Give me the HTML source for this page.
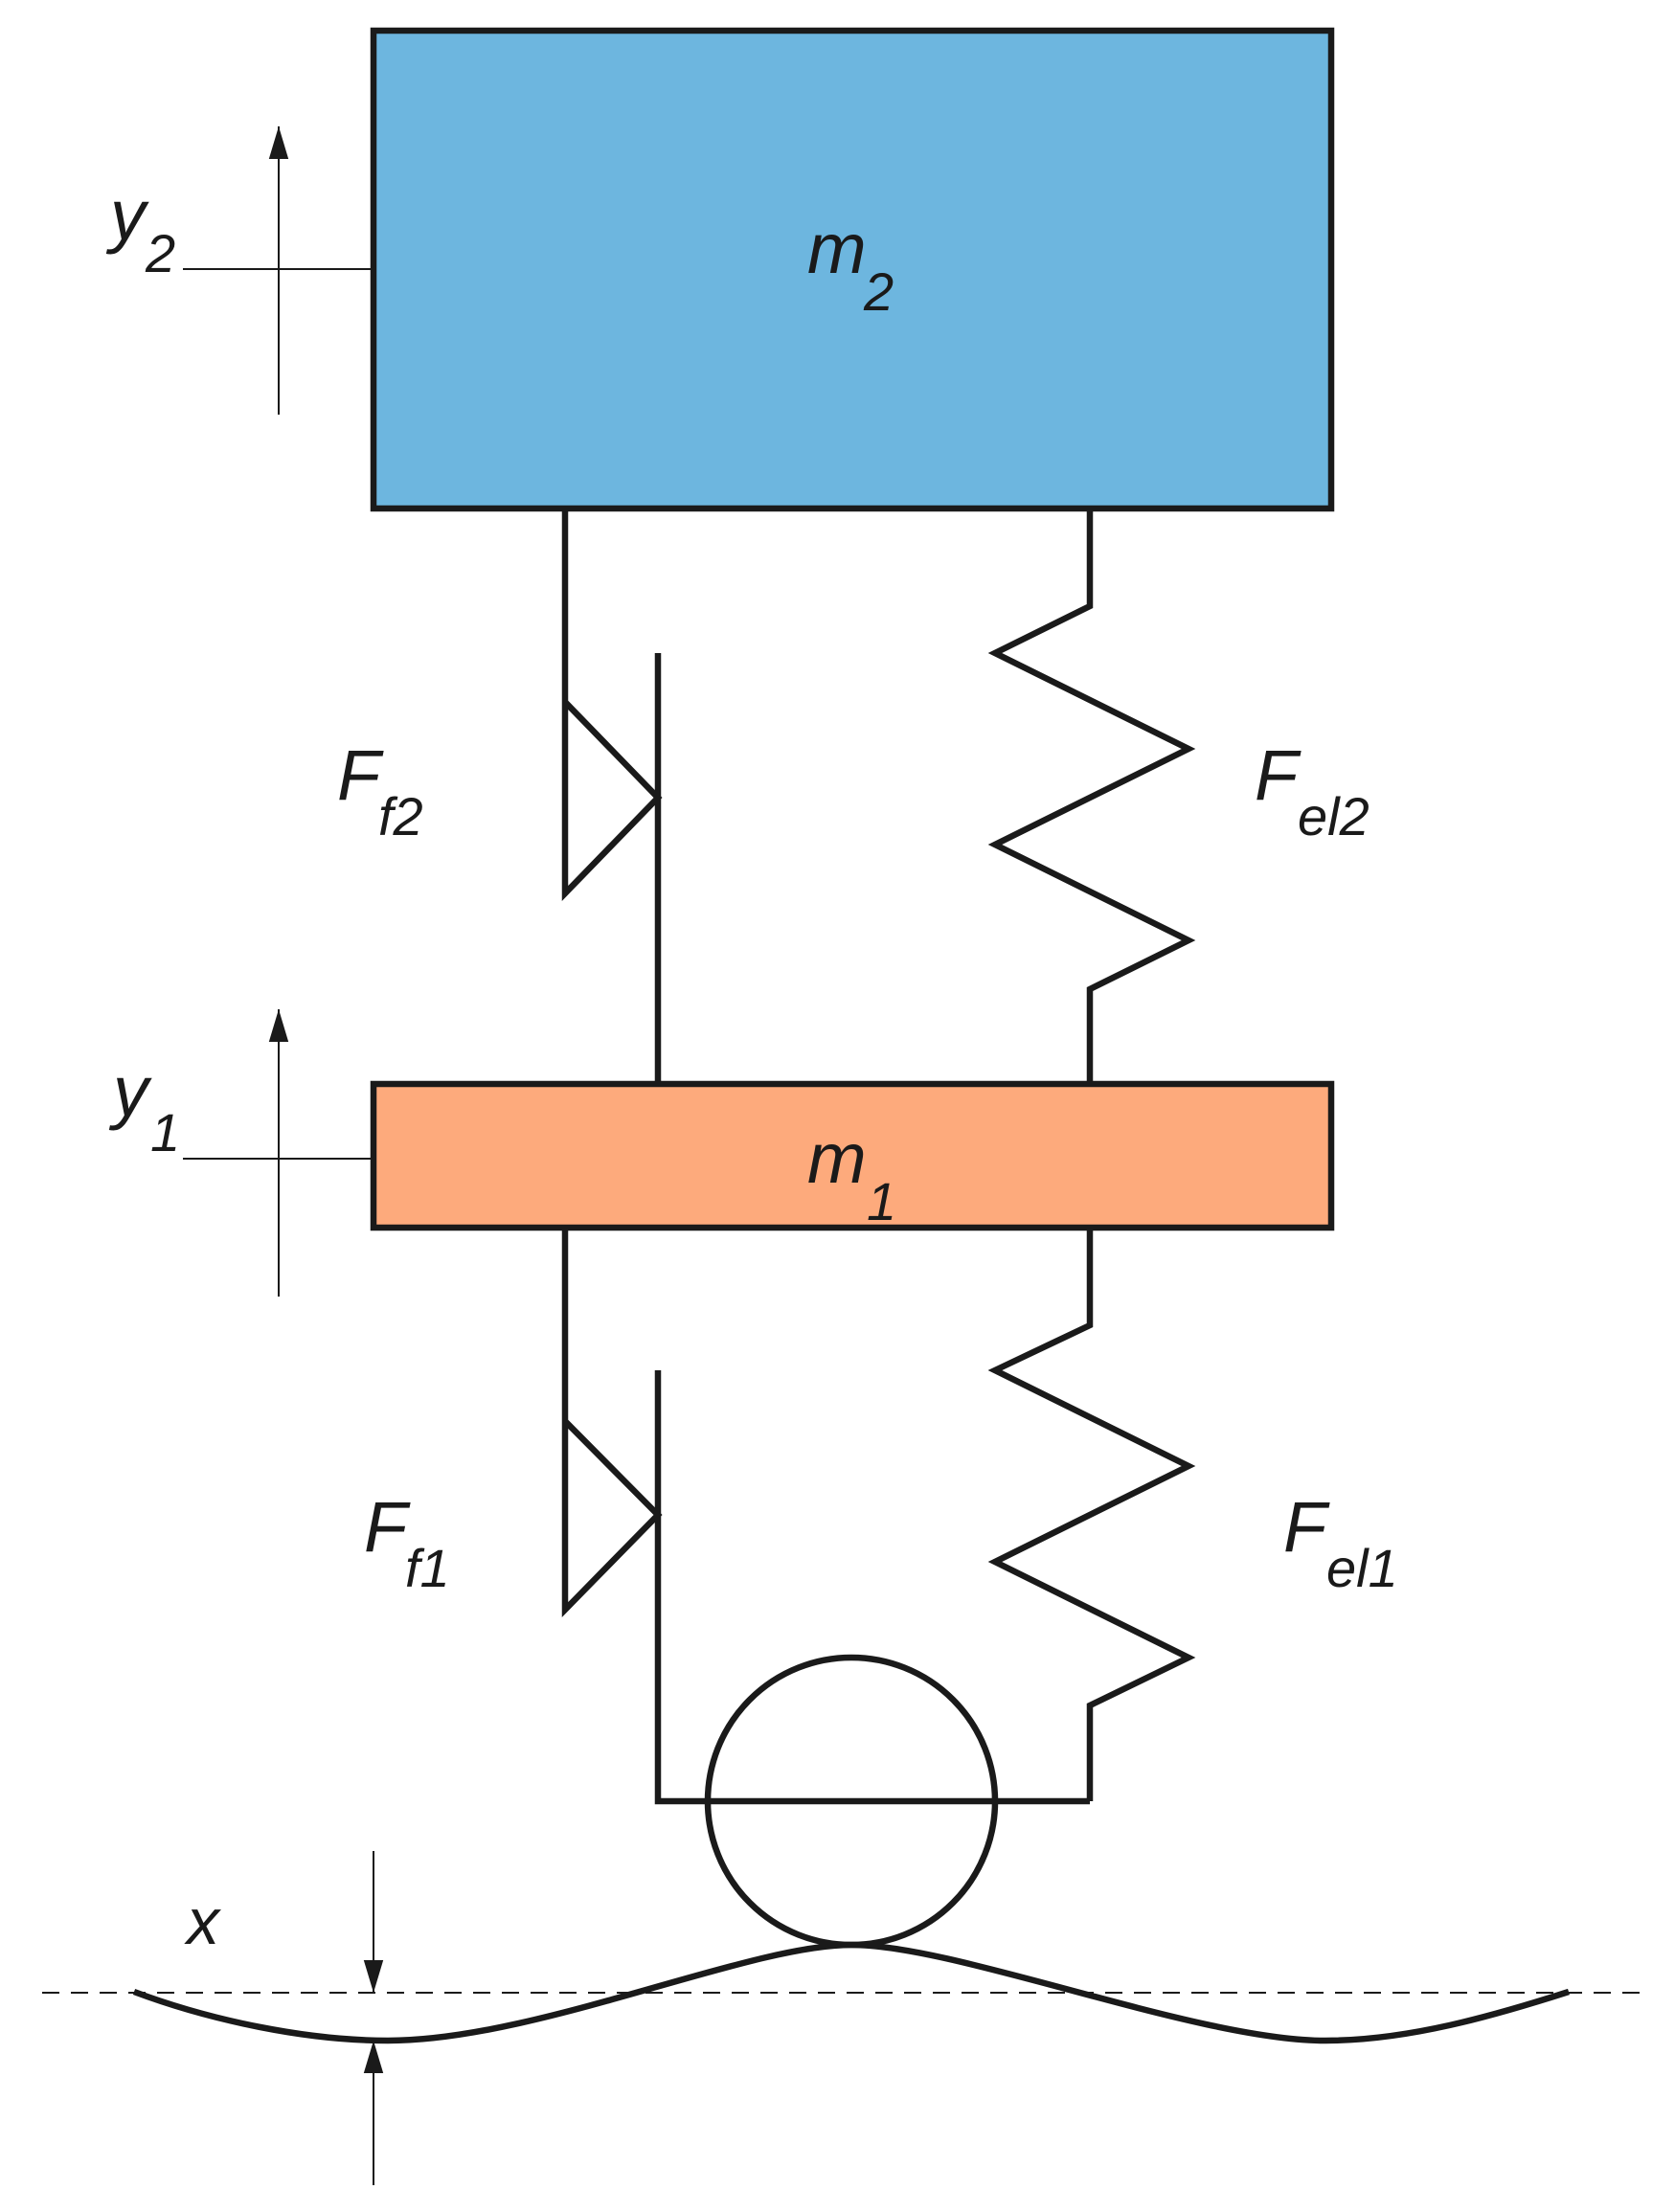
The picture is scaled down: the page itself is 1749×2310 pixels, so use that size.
<!DOCTYPE html>
<html><head><style>
html,body{margin:0;padding:0;background:#fff;}
svg{display:block;}
text{font-family:"Liberation Sans",sans-serif;font-style:italic;fill:#1a1a1a;}
</style></head><body>
<svg width="1749" height="2310" viewBox="0 0 1749 2310" xmlns="http://www.w3.org/2000/svg">
<defs>
<marker id="ah" viewBox="0 0 10 10" refX="10" refY="5" markerWidth="34" markerHeight="34" markerUnits="userSpaceOnUse" orient="auto"><path d="M0,2 L10,5 L0,8 z" fill="#1a1a1a"/></marker>
</defs>
<g stroke="#1a1a1a" stroke-width="6.5" fill="none" stroke-linejoin="miter">
<rect x="390" y="32" width="1000" height="499" fill="#6db6df"/>
<rect x="390" y="1132" width="1000" height="150" fill="#fdaa7c"/>
<polyline points="590,531 590,733 687,833 590,933 590,733"/>
<line x1="687" y1="682" x2="687" y2="1132"/>
<polyline points="1138,531 1138,633 1039,682 1241,782 1039,882 1241,982 1138,1033 1138,1132"/>
<polyline points="590,1282 590,1484 687,1582 590,1681 590,1484"/>
<polyline points="687,1431 687,1881 1138,1881"/>
<polyline points="1138,1282 1138,1384 1039,1431 1241,1531 1039,1631 1241,1731 1138,1781 1138,1881"/>
<circle cx="889" cy="1881" r="150"/>
<path d="M140,2080 C220,2110 320,2131 405,2131 C560,2131 780,2031 889,2031 C1000,2031 1250,2131 1384,2131 C1470,2131 1560,2105 1638,2080"/>
</g>
<g stroke="#1a1a1a" stroke-width="2" fill="none">
<line x1="291" y1="433" x2="291" y2="132" marker-end="url(#ah)"/>
<line x1="191" y1="281" x2="390" y2="281"/>
<line x1="291" y1="1354" x2="291" y2="1054" marker-end="url(#ah)"/>
<line x1="191" y1="1210" x2="390" y2="1210"/>
<line x1="390" y1="1933" x2="390" y2="2081" marker-end="url(#ah)"/>
<line x1="390" y1="2282" x2="390" y2="2131" marker-end="url(#ah)"/>
<line x1="44" y1="2081" x2="1715" y2="2081" stroke-dasharray="18,12"/>
</g>
<text x="115" y="250" font-size="74">y</text><text x="152" y="284" font-size="56">2</text>
<text x="843" y="285" font-size="74">m</text><text x="902" y="324" font-size="56">2</text>
<text x="118" y="1165" font-size="74">y</text><text x="157" y="1202" font-size="56">1</text>
<text x="843" y="1235" font-size="74">m</text><text x="905" y="1274" font-size="56">1</text>
<text x="352" y="835" font-size="74">F</text><text x="395" y="872" font-size="56">f2</text>
<text x="1310" y="835" font-size="74">F</text><text x="1355" y="872" font-size="56">el2</text>
<text x="380" y="1620" font-size="74">F</text><text x="423" y="1657" font-size="56">f1</text>
<text x="1340" y="1620" font-size="74">F</text><text x="1385" y="1657" font-size="56">el1</text>
<text x="195" y="2030" font-size="68">x</text>
</svg>
</body></html>
